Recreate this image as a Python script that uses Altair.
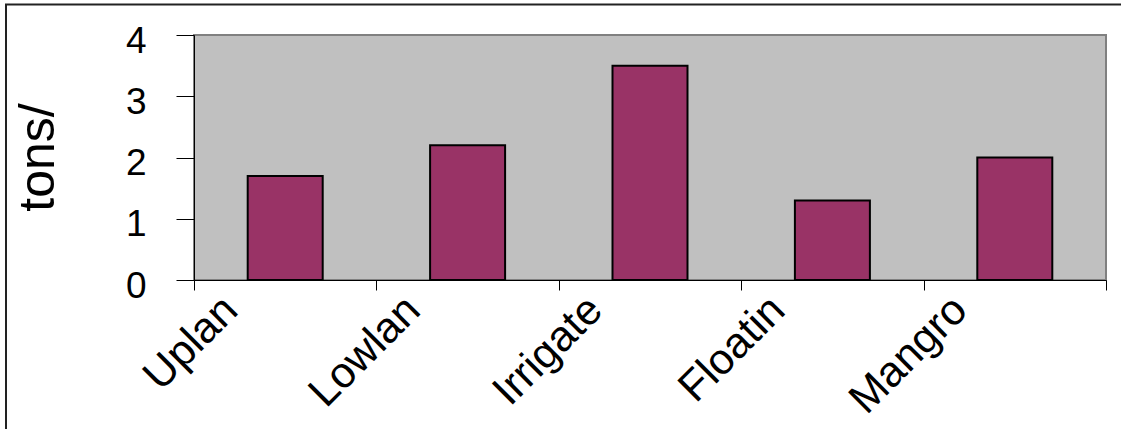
import altair as alt
import pandas as pd

# Data
labels = ["Uplan", "Lowlan", "Irrigate", "Floatin", "Mangro"]
yields = [1.7, 2.2, 3.5, 1.3, 2.0]
y_ticks = [0, 1, 2, 3, 4]

df = pd.DataFrame({"ecosystem": labels, "yield": yields})

W, H = 912, 245
FONT = "Liberation Sans"

border = alt.Chart(alt.Data(values=[{"k": 1}])).mark_rect(
    filled=False, stroke="#222222", strokeWidth=2, clip=False
).encode(
    x=alt.value(-188), x2=alt.value(1140),
    y=alt.value(-30.5), y2=alt.value(460),
)

bars = alt.Chart(df).mark_bar(
    width=75, fill="#993366", stroke="black", strokeWidth=2
).encode(
    x=alt.X(
        "ecosystem:N", sort=labels,
        scale=alt.Scale(paddingInner=0, paddingOuter=0),
        axis=alt.Axis(
            title=None, labelAngle=-45, labelAlign="right", labelBaseline="middle",
            labelOffset=-55, labelPadding=13, tickBand="extent", tickSize=10,
            labelFontSize=43, labelFont=FONT, labelColor="black",
            labelOverlap=False, labelLimit=400,
            domainColor="black", tickColor="black", grid=False,
        ),
    ),
    y=alt.Y(
        "yield:Q", scale=alt.Scale(domain=[0, 4], nice=False),
        axis=alt.Axis(
            values=y_ticks, title="tons/", grid=False,
            tickSize=18, labelPadding=30, labelFontSize=37, labelFont=FONT,
            labelColor="black", labelOffset=6,
            domainColor="black", tickColor="black",
            titleFont=FONT, titleFontSize=50, titleFontWeight="normal",
            titleColor="black", titleAngle=-90, titleAlign="center",
            titleBaseline="alphabetic", titleX=-141, titleY=122,
        ),
    ),
)

chart = alt.layer(border, bars).properties(
    width=W, height=H,
    padding={"left": 194, "top": 35, "right": 15, "bottom": 149},
    autosize=alt.AutoSizeParams(type="none"),
    background="white",
).configure_view(
    fill="#C0C0C0", stroke="#808080", strokeWidth=2
)

chart.save("out.html", embed_options={"renderer": "svg", "actions": False})
